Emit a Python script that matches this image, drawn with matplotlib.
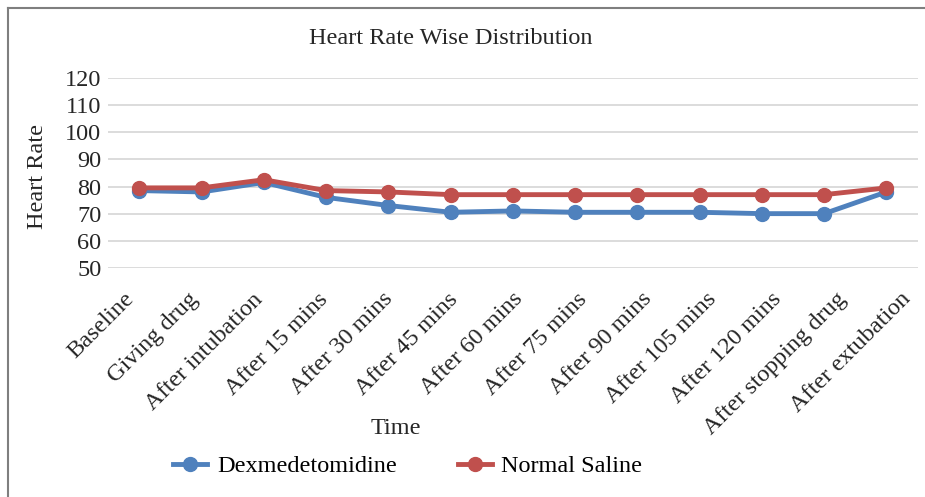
import matplotlib
matplotlib.use("Agg")
import matplotlib.pyplot as plt
from matplotlib.lines import Line2D

plt.rcParams['font.family'] = ['Liberation Serif', 'DejaVu Serif']

categories = ['Baseline', 'Giving drug', 'After intubation', 'After 15 mins',
              'After 30 mins', 'After 45 mins', 'After 60 mins', 'After 75 mins',
              'After 90 mins', 'After 105 mins', 'After 120 mins',
              'After stopping drug', 'After extubation']
dexmedetomidine = [78.5, 78, 81.5, 76, 73, 70.5, 71, 70.5, 70.5, 70.5, 70, 70, 78]
normal_saline = [79.5, 79.5, 82.5, 78.5, 78, 77, 77, 77, 77, 77, 77, 77, 79.5]
yticks = [50, 60, 70, 80, 90, 100, 110, 120]

blue = '#4F81BD'
red = '#C0504D'
txt = '#262626'
fs = 17.5

fig = plt.figure(figsize=(9.25, 4.97), dpi=100)
ax = fig.add_axes([0.117, 0.461, 0.875, 0.382])

x = list(range(len(categories)))
ax.plot(x, dexmedetomidine, color=blue, lw=3.5, marker='o', ms=10, zorder=3)
ax.plot(x, normal_saline, color=red, lw=3.5, marker='o', ms=10, zorder=4)

ax.set_xlim(-0.5, len(categories) - 0.5)
ax.set_ylim(50, 120)
ax.set_yticks(yticks)
# the rotated labels are spread a little wider than the points, like in Excel
ax.set_xticks([i * 1.04 - 0.26 for i in x])
ax.set_xticklabels(categories, rotation=45, ha='right', rotation_mode='anchor')
ax.tick_params(axis='both', length=0, labelsize=fs, colors=txt, pad=5)
ax.tick_params(axis='x', pad=15)
ax.grid(axis='y', color='#D9D9D9', lw=1.3)
ax.set_axisbelow(True)
for s in ax.spines.values():
    s.set_visible(False)

fig.text(0.487, 0.923, 'Heart Rate Wise Distribution', ha='center', va='center',
         fontsize=fs, color=txt)
fig.text(0.041, 0.645, 'Heart Rate', rotation=90, ha='center', va='center',
         fontsize=fs, color=txt)
fig.text(0.428, 0.138, 'Time', ha='center', va='center', fontsize=fs, color=txt)

handles = [Line2D([], [], color=blue, lw=3.5, marker='o', ms=10),
           Line2D([], [], color=red, lw=3.5, marker='o', ms=10)]
fig.legend(handles, ['Dexmedetomidine', 'Normal Saline'], loc='center',
           bbox_to_anchor=(0.441, 0.062), ncol=2, frameon=False, fontsize=fs,
           handlelength=1.4, columnspacing=2.5, handletextpad=0.4)

# frame lines along the top and left edge
fig.add_artist(Line2D([0.009, 1.0], [0.984, 0.984], color='#7F7F7F', lw=1.5))
fig.add_artist(Line2D([0.009, 0.009], [0.0, 0.984], color='#7F7F7F', lw=1.5))

fig.savefig('out.png', dpi=100)
